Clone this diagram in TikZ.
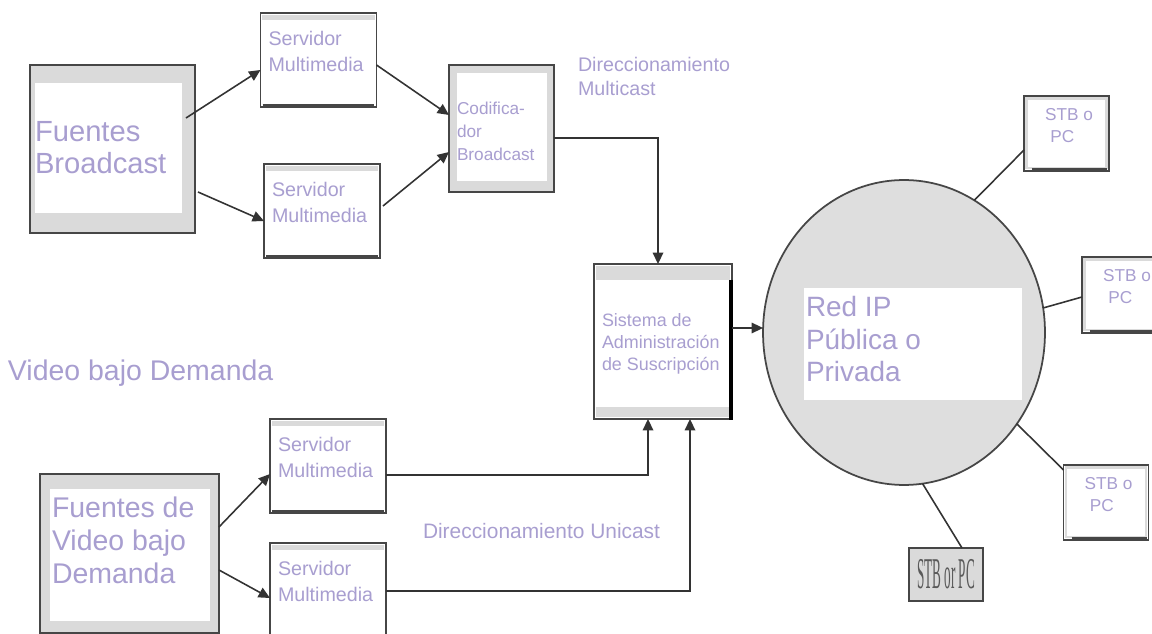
\documentclass[tikz,border=0pt]{standalone}
\usepackage{fontspec}
\setmainfont{Liberation Sans}
\newfontfamily\stbfont{Liberation Serif}
\usetikzlibrary{arrows.meta,calc,shapes.geometric}
\definecolor{txt}{RGB}{168,158,208}
\definecolor{edge}{RGB}{70,70,70}
\definecolor{frame}{RGB}{218,218,218}
\definecolor{netfill}{RGB}{222,222,222}
\definecolor{stbtxt}{RGB}{90,90,90}
\begin{document}
\begin{tikzpicture}[x=0.02cm,y=-0.02cm,
  lbl/.style={text=txt, inner sep=0, outer sep=0, anchor=north west, align=left},
  bigfont/.style={font=\fontsize{16.6}{18.7}\selectfont},
  srvfont/.style={font=\fontsize{11.2}{14.7}\selectfont},
  smallfont/.style={font=\fontsize{9.8}{13}\selectfont},
  srcbox/.style={draw=edge, fill=frame, line width=1.1pt, rectangle, inner sep=0, outer sep=0},
  srvbox/.style={draw=edge, fill=white, line width=1pt, rectangle, inner sep=0, outer sep=0, minimum width=2.32cm, minimum height=1.88cm},
  stbbox/.style={draw=edge, fill=white, line width=1pt, rectangle, inner sep=0, outer sep=0, minimum width=1.7cm, minimum height=1.5cm},
  conn/.style={draw=black!80, line width=0.9pt},
  arr/.style={conn, -{Triangle[length=6.5pt,width=6pt]}},
]
\useasboundingbox (0,0) rectangle (1152,634);

% ---------- Broadcast sources ----------
\node[srcbox, minimum width=3.3cm, minimum height=3.36cm] (FB) at (112.5,149) {};
\fill[white] (35,83) rectangle (182,213);
\node[lbl, bigfont] (tFB) at (35,121) {Fuentes\\Broadcast};

% ---------- Servers ----------
\node[srvbox] (S1) at (318.5,60) {};
\node[srvbox] (S2) at (322,211) {};
\node[srvbox] (S3) at (328,466) {};
\node[srvbox] (S4) at (328,590) {};
\foreach \n in {S1,S2,S3,S4}{
  \fill[frame] ($(\n.north west)+(1.5,1.5)$) rectangle ($(\n.north east)+(-1.5,7)$);
  \draw[edge, line width=2pt] ($(\n.south west)+(2,-1)$) -- ($(\n.south east)+(-2,-1)$);
  \node[lbl, srvfont] (t\n) at ($(\n.north west)+(8,18)$) {Servidor\\Multimedia};
}

% ---------- Encoder ----------
\node[srcbox, minimum width=2.1cm, minimum height=2.54cm] (CB) at (501.5,128.5) {};
\fill[white] (457,73) rectangle (547,181);
\node[lbl, smallfont] (tCB) at (457,102) {Codifica-\\dor\\Broadcast};
\node[lbl, font=\fontsize{11.2}{14}\selectfont] (tMC) at (578,57) {Direccionamiento\\Multicast};

% ---------- Subscription system ----------
\node[srvbox, minimum width=2.76cm, minimum height=3.1cm] (SA) at (663,341.5) {};
\fill[frame] (596,266) rectangle (730,280);
\fill[frame] (596,407) rectangle (730,417);
\draw[black, line width=1.8pt] (731,280) -- (731,420);
\node[lbl, font=\fontsize{10.2}{12.5}\selectfont] (tSA) at (602,314) {Sistema de\\Administración\\de Suscripción};

% ---------- IP network ----------
\node[ellipse, draw=edge, fill=netfill, line width=1pt, inner sep=0, outer sep=0,
      minimum width=5.64cm, minimum height=6.1cm] (C) at (904,332.5) {};
\fill[white] (804,288) rectangle (1022,400);
\node[lbl, font=\fontsize{15.9}{18.7}\selectfont] (tC) at (806,296) {Red IP\\Pública o\\Privada};

% ---------- STB / PC ----------
\node[stbbox] (STB1) at (1066.5,133.5) {};
\node[stbbox, minimum height=1.52cm] (STB2) at (1124.5,295) {};
\node[stbbox] (STB3) at (1106,502.5) {};
\foreach \n in {STB1,STB2,STB3}{
  \draw[frame, line width=1.2pt] ($(\n.north west)+(2.5,2.5)$) rectangle ($(\n.south east)+(-2.5,-3)$);
  \draw[edge, line width=2pt] ($(\n.south west)+(8,-1)$) -- ($(\n.south east)+(-2,-1)$);
  \node[lbl, smallfont] (t\n) at ($(\n.north west)+(21,12)$) {STB o\\\hspace*{3pt}PC};
}
\node[draw=edge, fill=frame, line width=1pt, inner sep=0, outer sep=0,
      minimum width=1.48cm, minimum height=1.06cm, text=stbtxt] (STB4) at (946,574.5)
      {\scalebox{0.3}[1]{\stbfont\fontsize{25}{25}\selectfont STB or PC}};

% ---------- VoD ----------
\node[lbl, font=\fontsize{16.2}{18}\selectfont] (tVoD) at (8,360) {Video bajo Demanda};
\node[srcbox, minimum width=3.58cm, minimum height=3.18cm] (FV) at (129.5,553.5) {};
\fill[white] (50,489) rectangle (210,621);
\node[lbl, font=\fontsize{16.2}{18.7}\selectfont] (tFV) at (52,497) {Fuentes de\\Video bajo\\Demanda};
\node[lbl, font=\fontsize{11.9}{14}\selectfont] (tUC) at (423,523) {Direccionamiento Unicast};

% ---------- Connectors ----------
\draw[arr] ($(FB.north east)+(-9,53)$) -- ($(S1.west)+(0,10)$);
\draw[arr] ($(FB.east)+(3,43)$) -- ($(S2.west)+(0,10)$);
\draw[arr] ($(S1.east)+(0,5)$) -- ($(CB.west)+(0,-13.5)$);
\draw[arr] ($(S2.east)+(3,-5)$) -- ($(CB.west)+(0,23.5)$);
\draw[arr] ($(CB.east)+(0,9.5)$) -| ($(SA.north)+(-5,0)$);
\coordinate (saout) at ($(SA.east)+(0,-13.5)$);
\draw[arr] (saout) -- (saout -| C.west);
\draw[arr] ($(FV.east)+(0,-26.5)$) -- ($(S3.west)+(0,8)$);
\draw[arr] ($(FV.east)+(0,16.5)$) -- ($(S4.west)+(0,8)$);
\draw[arr] ($(S3.east)+(0,9)$) -| ($(SA.south)+(-15,0)$);
\draw[arr] ($(S4.east)+(0,1)$) -| ($(SA.south)+(27,0)$);
\draw[conn] (C.62.5) -- ($(STB1.west)+(0,16.5)$);
\draw[conn] (C.10.6) -- ($(STB2.west)+(0,2)$);
\draw[conn] (C.-39.3) -- ($(STB3.west)+(0,-32.5)$);
\draw[conn] (C.-83.6) -- ($(STB4.north)+(16,0)$);
\end{tikzpicture}
\end{document}
